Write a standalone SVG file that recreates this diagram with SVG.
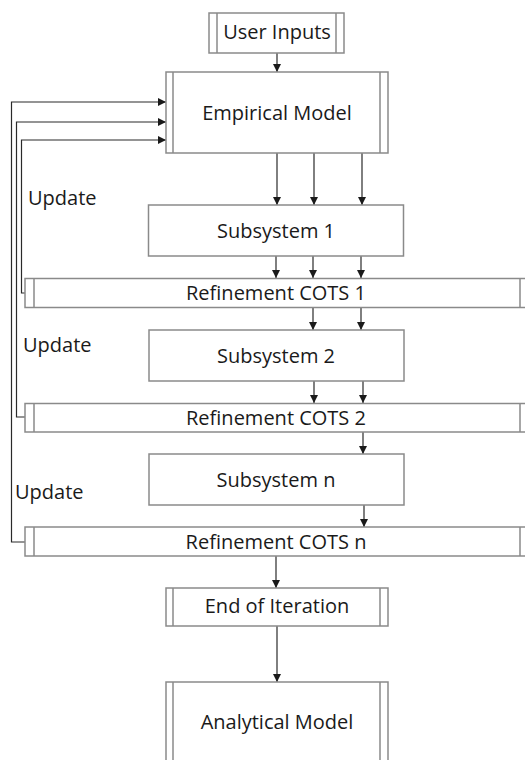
<svg xmlns="http://www.w3.org/2000/svg" width="525" height="760" viewBox="0 0 525 760">
  <style>
    .box { fill: #ffffff; stroke: #8a8a8a; stroke-width: 1.5; }
    .bar { stroke: #8a8a8a; stroke-width: 1.5; fill: none; }
    .lbl { font-family: "Open Sans", "Liberation Sans", sans-serif; font-size: 20px; fill: #1a1a1a; text-anchor: middle; }
    .upd { font-family: "Open Sans", "Liberation Sans", sans-serif; font-size: 20px; fill: #1a1a1a; }
    .edge { stroke: #2a2a2a; stroke-width: 1.2; fill: none; }
    .arr { marker-end: url(#head); }
  </style>
  <defs>
    <marker id="head" viewBox="0 0 10 10" refX="10" refY="5" markerWidth="8" markerHeight="8" markerUnits="userSpaceOnUse" orient="auto">
      <path d="M0,0 L10,5 L0,10 Z" fill="#1a1a1a"/>
    </marker>
  </defs>

  <!-- connectors -->
  <g id="connectors">
    <!-- user inputs -> empirical model -->
    <path class="edge arr" d="M277,53 V72"/>
    <!-- empirical model -> subsystem 1 -->
    <path class="edge arr" d="M277,153 V205"/>
    <path class="edge arr" d="M314,153 V205"/>
    <path class="edge arr" d="M362,153 V205"/>
    <!-- subsystem 1 -> refinement COTS 1 -->
    <path class="edge arr" d="M276,256 V278"/>
    <path class="edge arr" d="M313,256 V278"/>
    <path class="edge arr" d="M361,256 V278"/>
    <!-- refinement COTS 1 -> subsystem 2 -->
    <path class="edge arr" d="M313,308 V330"/>
    <path class="edge arr" d="M361,308 V330"/>
    <!-- subsystem 2 -> refinement COTS 2 -->
    <path class="edge arr" d="M314,381 V403"/>
    <path class="edge arr" d="M363,381 V403"/>
    <!-- refinement COTS 2 -> subsystem n -->
    <path class="edge arr" d="M363,432 V454"/>
    <!-- subsystem n -> refinement COTS n -->
    <path class="edge arr" d="M364,505 V527"/>
    <!-- refinement COTS n -> end of iteration -->
    <path class="edge arr" d="M276,556 V588"/>
    <!-- end of iteration -> analytical model -->
    <path class="edge arr" d="M277,626 V682"/>
    <!-- update feedback loops -->
    <path class="edge arr" d="M25,293 H21.5 V140 H166"/>
    <path class="edge arr" d="M25,417 H16.5 V122 H166"/>
    <path class="edge arr" d="M25,542 H11.5 V102 H166"/>
  </g>

  <!-- update labels -->
  <g id="labels">
    <text class="upd" x="28" y="205">Update</text>
    <text class="upd" x="23" y="352">Update</text>
    <text class="upd" x="15" y="499">Update</text>
  </g>

  <g id="user-inputs">
    <rect class="box" x="209" y="13" width="135" height="40"/>
    <path class="bar" d="M217,13 V53 M336,13 V53"/>
    <text class="lbl" x="277" y="39">User Inputs</text>
  </g>

  <g id="empirical-model">
    <rect class="box" x="166" y="72" width="222" height="81"/>
    <path class="bar" d="M173,72 V153 M380,72 V153"/>
    <text class="lbl" x="277" y="120">Empirical Model</text>
  </g>

  <g id="subsystem-1">
    <rect class="box" x="148.5" y="205" width="255" height="51"/>
    <text class="lbl" x="276" y="238">Subsystem 1</text>
  </g>

  <g id="refinement-cots-1">
    <rect class="box" x="25" y="278.5" width="505" height="29"/>
    <path class="bar" d="M34,278.5 V307.5 M520,278.5 V307.5"/>
    <text class="lbl" x="276" y="300">Refinement COTS 1</text>
  </g>

  <g id="subsystem-2">
    <rect class="box" x="149" y="330" width="255" height="51"/>
    <text class="lbl" x="276" y="363">Subsystem 2</text>
  </g>

  <g id="refinement-cots-2">
    <rect class="box" x="25" y="403.5" width="505" height="28.5"/>
    <path class="bar" d="M34,403.5 V432 M520,403.5 V432"/>
    <text class="lbl" x="276" y="425">Refinement COTS 2</text>
  </g>

  <g id="subsystem-n">
    <rect class="box" x="149" y="454" width="255" height="51"/>
    <text class="lbl" x="276" y="487">Subsystem n</text>
  </g>

  <g id="refinement-cots-n">
    <rect class="box" x="25" y="527" width="505" height="29"/>
    <path class="bar" d="M34,527 V556 M520,527 V556"/>
    <text class="lbl" x="276" y="549">Refinement COTS n</text>
  </g>

  <g id="end-of-iteration">
    <rect class="box" x="166" y="588" width="222" height="38"/>
    <path class="bar" d="M173,588 V626 M380,588 V626"/>
    <text class="lbl" x="277" y="613">End of Iteration</text>
  </g>

  <g id="analytical-model">
    <rect class="box" x="166" y="682" width="222" height="90"/>
    <path class="bar" d="M173,682 V772 M380,682 V772"/>
    <text class="lbl" x="277" y="729">Analytical Model</text>
  </g>
</svg>
